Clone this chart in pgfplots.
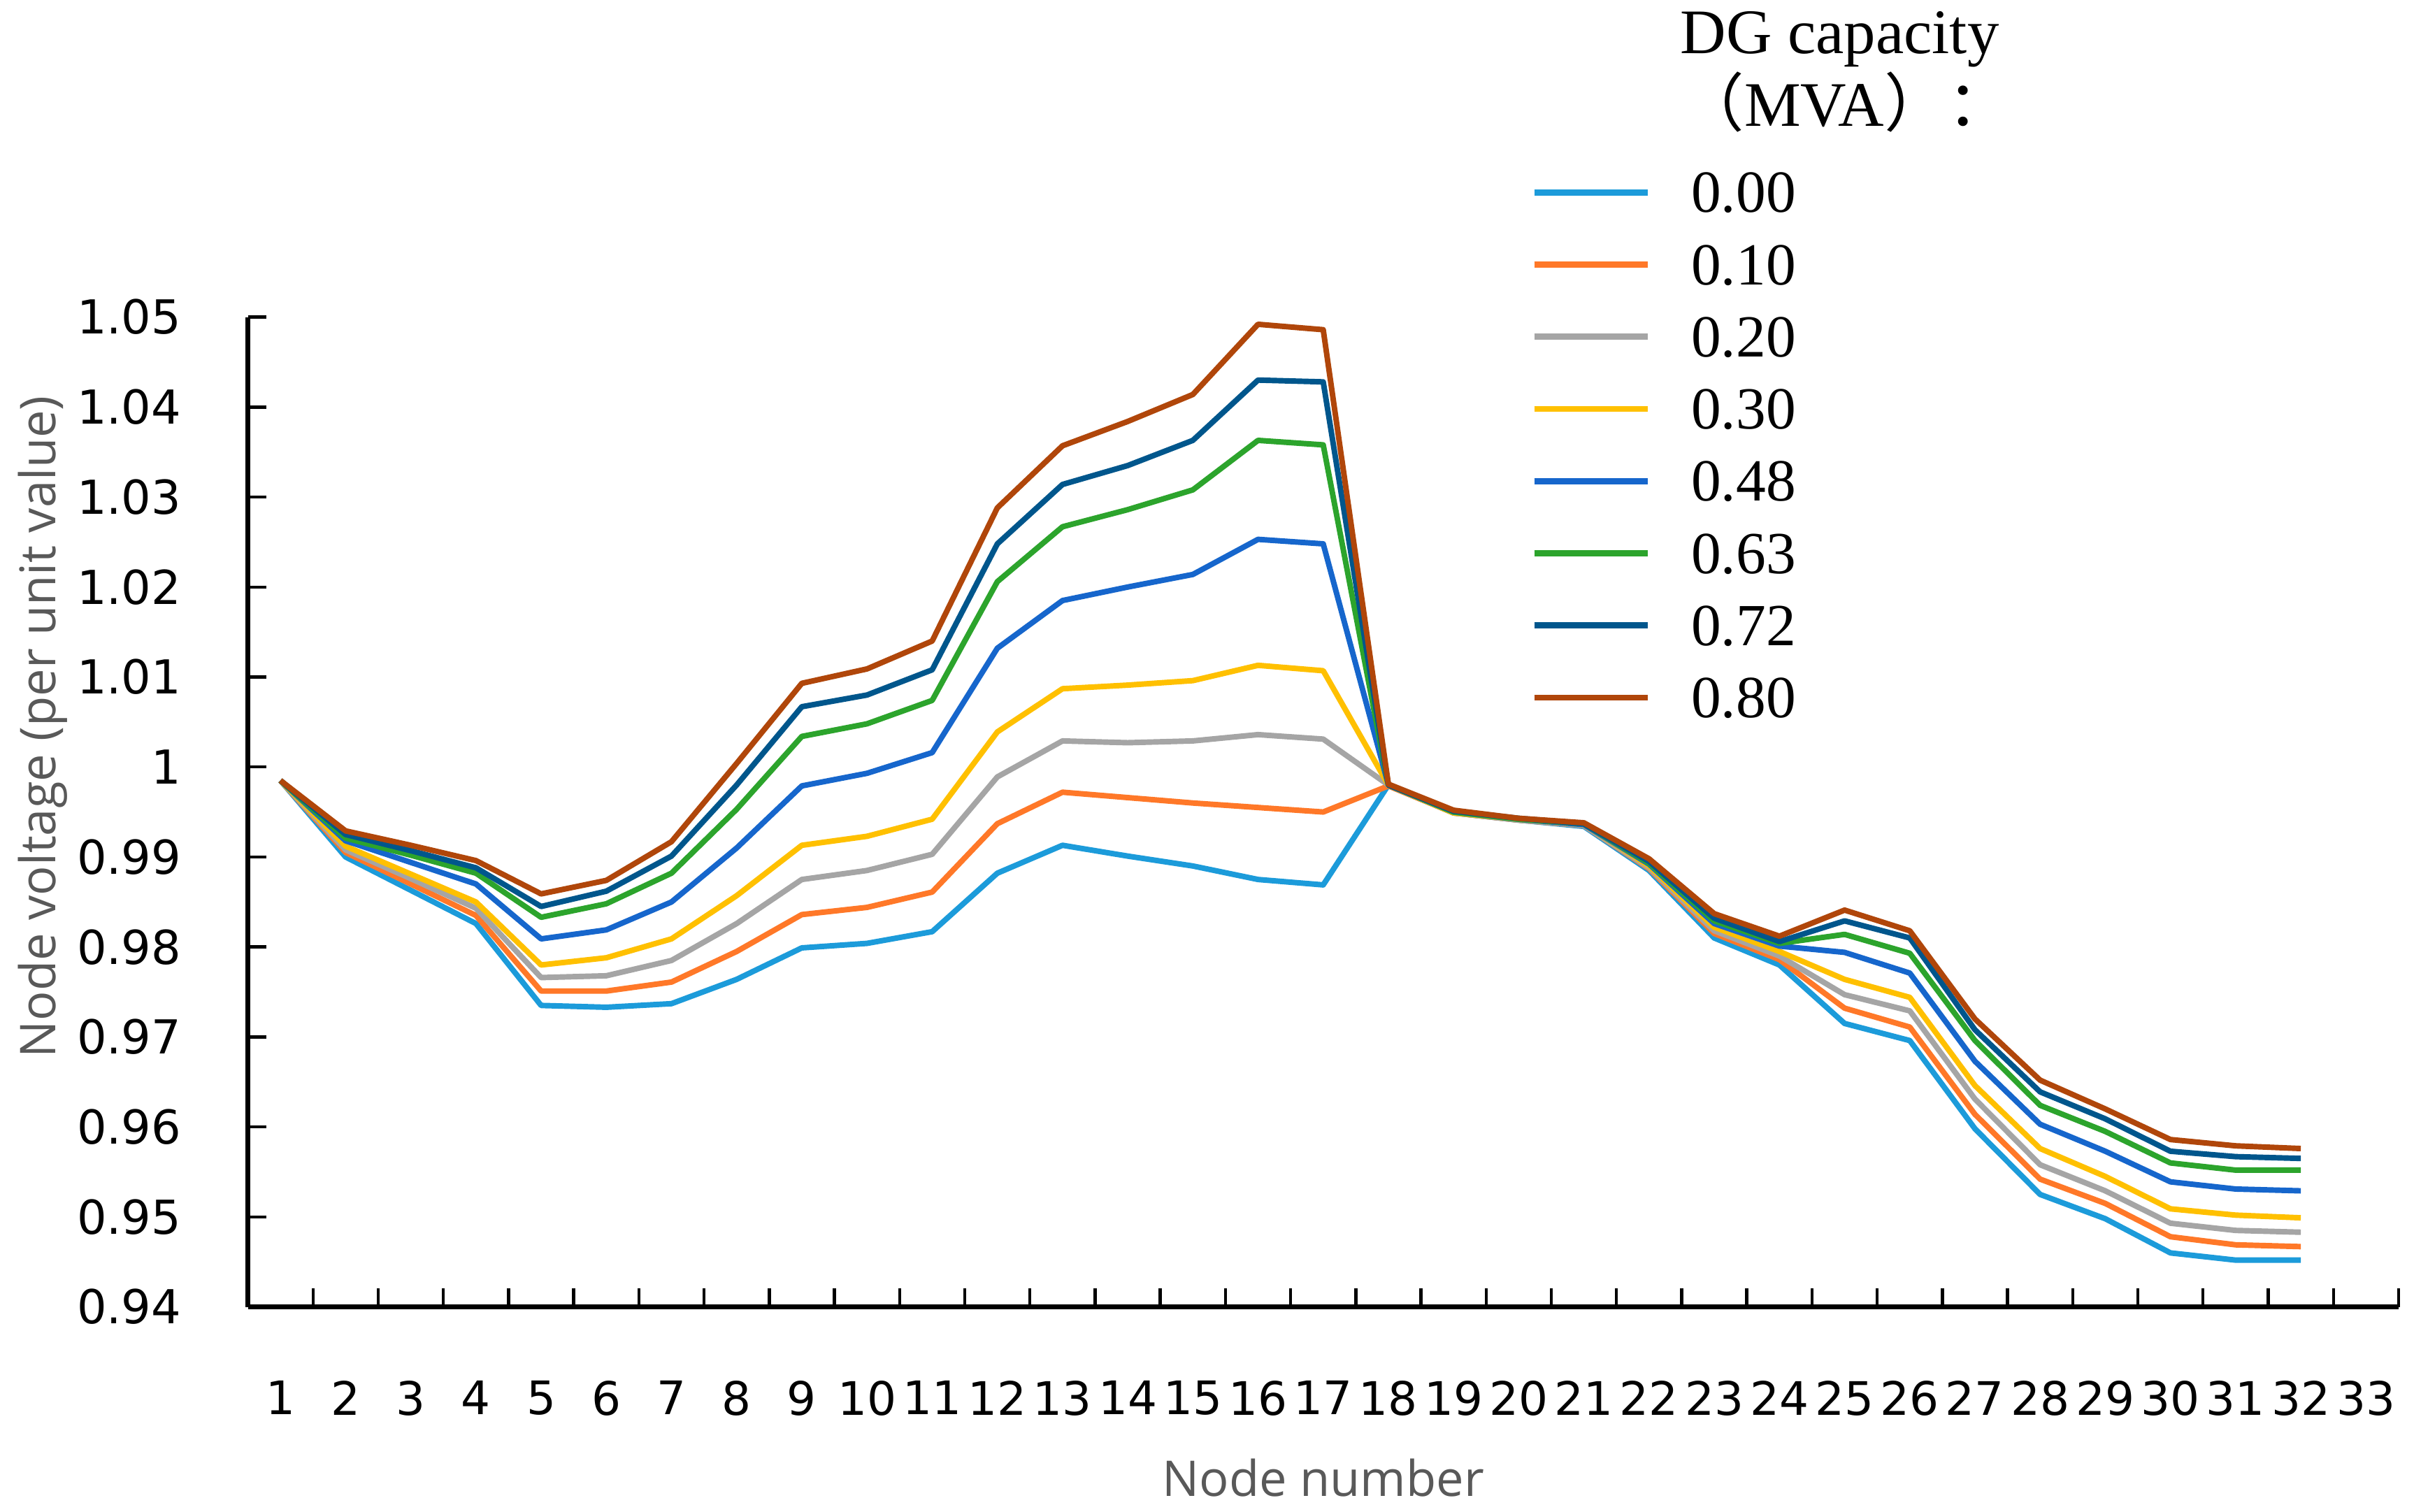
\documentclass[border=0pt]{standalone}
\usepackage{fontspec}
\setmainfont{Liberation Serif}
\newfontfamily\dejavu{DejaVu Sans}
\newfontfamily\opensans{Open Sans}
\newfontfamily\cjk{Noto Sans CJK SC}
\usepackage{pgfplots}
\usepackage{pgfplotstable}
\pgfplotsset{compat=1.18}
\definecolor{c0}{RGB}{28,155,218}
\definecolor{c1}{RGB}{255,120,40}
\definecolor{c2}{RGB}{165,165,165}
\definecolor{c3}{RGB}{255,192,0}
\definecolor{c4}{RGB}{22,102,204}
\definecolor{c5}{RGB}{44,164,44}
\definecolor{c6}{RGB}{0,86,140}
\definecolor{c7}{RGB}{176,70,10}
\definecolor{labgray}{RGB}{89,89,89}
\pgfplotstableread{
n  a      b      c      d      e      f      g      h
1  0.9985 0.9985 0.9985 0.9985 0.9985 0.9985 0.9985 0.9985
2  0.9900 0.9905 0.9908 0.9912 0.9918 0.9921 0.9925 0.9929
3  0.9863 0.9870 0.9876 0.9881 0.9894 0.9902 0.9907 0.9913
4  0.9826 0.9835 0.9843 0.9850 0.9870 0.9882 0.9888 0.9896
5  0.9735 0.9751 0.9766 0.9780 0.9809 0.9833 0.9845 0.9859
6  0.9733 0.9751 0.9768 0.9788 0.9819 0.9848 0.9862 0.9874
7  0.9737 0.9761 0.9785 0.9809 0.9850 0.9882 0.9901 0.9917
8  0.9764 0.9795 0.9826 0.9857 0.9910 0.9953 0.9980 1.0004
9  0.9799 0.9836 0.9875 0.9913 0.9979 1.0034 1.0067 1.0093
10 0.9804 0.9844 0.9885 0.9923 0.9993 1.0048 1.0080 1.0109
11 0.9817 0.9861 0.9903 0.9942 1.0016 1.0074 1.0108 1.0140
12 0.9882 0.9937 0.9989 1.0039 1.0132 1.0206 1.0248 1.0288
13 0.9913 0.9972 1.0029 1.0087 1.0185 1.0267 1.0314 1.0357
14 0.9901 0.9966 1.0027 1.0091 1.0200 1.0286 1.0335 1.0384
15 0.9890 0.9960 1.0029 1.0096 1.0214 1.0308 1.0363 1.0414
16 0.9875 0.9955 1.0036 1.0113 1.0253 1.0363 1.0430 1.0492
17 0.9869 0.9950 1.0031 1.0107 1.0248 1.0358 1.0428 1.0486
18 0.9980 0.9979 0.9980 0.9980 0.9980 0.9980 0.9980 0.9981
19 0.9949 0.9949 0.9949 0.9949 0.9950 0.9950 0.9951 0.9952
20 0.9941 0.9941 0.9941 0.9942 0.9942 0.9942 0.9943 0.9943
21 0.9934 0.9935 0.9935 0.9936 0.9936 0.9937 0.9937 0.9938
22 0.9885 0.9887 0.9888 0.9890 0.9892 0.9893 0.9895 0.9898
23 0.9810 0.9815 0.9818 0.9822 0.9826 0.9829 0.9832 0.9837
24 0.9780 0.9786 0.9790 0.9795 0.9801 0.9804 0.9806 0.9812
25 0.9715 0.9732 0.9747 0.9764 0.9794 0.9814 0.9829 0.9841
26 0.9696 0.9711 0.9729 0.9744 0.9771 0.9793 0.9810 0.9818
27 0.9598 0.9614 0.9631 0.9646 0.9673 0.9696 0.9708 0.9720
28 0.9525 0.9542 0.9558 0.9576 0.9603 0.9624 0.9639 0.9652
29 0.9498 0.9515 0.9529 0.9545 0.9573 0.9595 0.9609 0.9620
30 0.9460 0.9478 0.9493 0.9509 0.9539 0.9560 0.9573 0.9586
31 0.9452 0.9469 0.9485 0.9502 0.9531 0.9552 0.9567 0.9579
32 0.9452 0.9467 0.9483 0.9499 0.9529 0.9552 0.9565 0.9576
}\datatable
\begin{document}
\begin{tikzpicture}
\begin{axis}[
  name=ax,
  scale only axis,
  width=349.25pt, height=160.75pt,
  xmin=0.5, xmax=33.5,
  ymin=0.94, ymax=1.05,
  axis lines*=left,
  axis line style={-, line width=0.75pt, black},
  tick align=inside,
  tick pos=left,
  major tick length=3pt,
  tick style={line width=0.5pt, black},
  xtick={1.5,2.5,...,33.5},
  xticklabels={},
  extra x ticks={1,2,...,33},
  extra x tick labels={1,2,3,4,5,6,7,8,9,10,11,12,13,14,15,16,17,18,19,20,21,22,23,24,25,26,27,28,29,30,31,32,33},
  extra x tick style={major tick length=0pt},
  xticklabel style={font=\dejavu\fontsize{7.5}{9}\selectfont, yshift=-8.5pt, inner xsep=0pt},
  ytick={0.94,0.95,0.96,0.97,0.98,0.99,1.00,1.01,1.02,1.03,1.04,1.05},
  yticklabels={0.94,0.95,0.96,0.97,0.98,0.99,1,1.01,1.02,1.03,1.04,1.05},
  yticklabel style={font=\dejavu\fontsize{7.6}{9}\selectfont, xshift=-7.3pt},
  xlabel={Node number},
  ylabel={Node voltage (per unit value)},
  xlabel style={font=\opensans\fontsize{8}{10}\selectfont, text=labgray, at={(axis description cs:0.5,0)}, anchor=center, yshift=-27.75pt},
  ylabel style={font=\opensans\fontsize{8}{10}\selectfont, text=labgray, at={(axis description cs:0,0.586)}, anchor=center, yshift=33.25pt},
  every axis plot/.append style={line width=0.9pt, line join=round},
  legend cell align=left,
  legend image code/.code={\draw[#1, line width=1pt] (0pt,0pt) -- (18.4pt,0pt);},
  legend style={at={(0.5967,1.1624)}, anchor=north west, draw=none, fill=none,
    inner sep=0pt, outer sep=0pt, row sep=0pt,
    font=\fontsize{9.7}{11}\selectfont,
    nodes={inner sep=0pt, text height=9.1pt, text depth=2.62pt},
    /tikz/every odd column/.append style={column sep=6.6pt}},
  clip=false,
]
\addplot[c0] table[x=n,y=a]{\datatable};
\addplot[c1] table[x=n,y=b]{\datatable};
\addplot[c2] table[x=n,y=c]{\datatable};
\addplot[c3] table[x=n,y=d]{\datatable};
\addplot[c4] table[x=n,y=e]{\datatable};
\addplot[c5] table[x=n,y=f]{\datatable};
\addplot[c6] table[x=n,y=g]{\datatable};
\addplot[c7] table[x=n,y=h]{\datatable};
\legend{0.00,0.10,0.20,0.30,0.48,0.63,0.72,0.80}
\end{axis}
\node[anchor=base, font=\fontsize{10.3}{12}\selectfont, inner sep=0pt, xshift=258.5pt, yshift=203.6pt] at (ax.south west) {DG capacity};
\node[anchor=base, font=\fontsize{10.3}{12}\selectfont, inner sep=0pt, xshift=259.5pt, yshift=191.7pt] at (ax.south west) {{\cjk （}MVA{\cjk ）：}};
\pgfresetboundingbox
\path[use as bounding box] ([xshift=-40.25pt,yshift=-33.25pt]ax.south west) rectangle ([xshift=351.75pt,yshift=212.25pt]ax.south west);
\end{tikzpicture}
\end{document}
